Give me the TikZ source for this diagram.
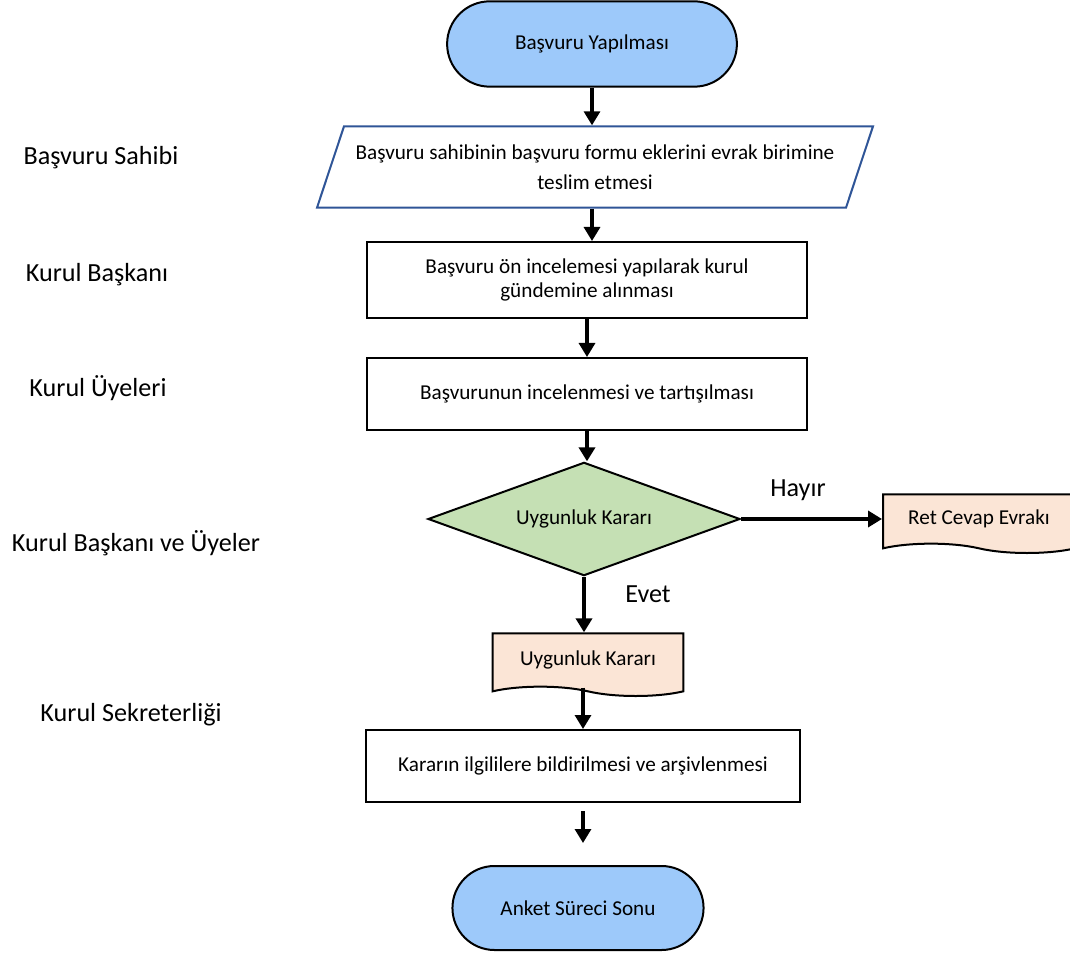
\documentclass[tikz,border=0pt]{standalone}
\usepackage{fontspec}
\setmainfont{Carlito}
\usetikzlibrary{shapes.geometric, shapes.misc, shapes.symbols, arrows.meta, positioning}
\definecolor{flowblue}{RGB}{157,201,250}
\definecolor{flowgreen}{RGB}{197,224,180}
\definecolor{flowpeach}{RGB}{251,229,214}
\definecolor{flowedge}{RGB}{47,85,151}
\newcommand{\boxfont}{\fontsize{15.9}{17.5}\selectfont}
\newcommand{\lanefont}{\fontsize{19.6}{22}\selectfont}
\tikzset{
  terminal/.style={draw, rounded rectangle, fill=flowblue, line width=1.5pt, font=\boxfont},
  iobox/.style={draw=flowedge, trapezium, trapezium left angle=64, trapezium right angle=116,
    trapezium stretches=true, line width=1.5pt, align=center, font=\fontsize{15.9}{22.5}\selectfont},
  procbox/.style={draw, rectangle, line width=1.5pt, align=center, font=\boxfont},
  decision/.style={draw, diamond, aspect=2.74, inner sep=0pt, fill=flowgreen, line width=1.5pt, font=\boxfont},
  docbox/.style={draw, tape, tape bend top=none, tape bend bottom=out and in, tape bend height=7pt,
    fill=flowpeach, line width=1.5pt, font=\boxfont},
  lane/.style={font=\lanefont},
  arr/.style={line width=2.4pt, -{Triangle[width=12pt,length=10.5pt]}},
  bigarr/.style={arr, line width=3pt}
}
\begin{document}
\begin{tikzpicture}[x=0.75pt, y=-0.75pt]
    \useasboundingbox (0,0) rectangle (1070,955);

    % flow
    \node[terminal, minimum width=224pt, minimum height=64pt] (start) at (592, 44) {Başvuru Yapılması};
    \node[iobox, minimum width=419pt, minimum height=61pt] (form) at (595, 167)
        {Başvuru sahibinin başvuru formu eklerini evrak birimine\\teslim etmesi};
    \node[procbox, minimum width=330pt, minimum height=57pt] (check) at (587, 280)
        {Başvuru ön incelemesi yapılarak kurul\\gündemine alınması};
    \node[procbox, minimum width=330pt, minimum height=54pt] (discuss) at (587, 394)
        {Başvurunun incelenmesi ve tartışılması};
    \node[decision, minimum width=234pt, minimum height=85pt] (decide) at (584, 519) {Uygunluk Kararı};
    \node[docbox, minimum width=144pt, minimum height=44pt] (reject) at (979, 519) {Ret Cevap Evrakı};
    \node[docbox, minimum width=143pt, minimum height=47pt] (result) at (588, 660) {Uygunluk Kararı};
    \node[procbox, minimum width=326pt, minimum height=54pt] (notify) at (583, 766)
        {Kararın ilgililere bildirilmesi ve arşivlenmesi};
    \node[terminal, minimum width=195pt, minimum height=63pt] (finish) at (578, 908) {Anket Süreci Sonu};

    \coordinate (tailA) at (583, 811);
    \coordinate (tipA) at (583, 843);

    % lanes
    \node[lane] (owner) at (101, 158) {Başvuru Sahibi};
    \node[lane] (chair) at (97, 275) {Kurul Başkanı};
    \node[lane] (members) at (98, 388) {Kurul Üyeleri};
    \node[lane] (board) at (136, 543) {Kurul Başkanı ve Üyeler};
    \node[lane] (office) at (131, 715) {Kurul Sekreterliği};

    % answers
    \node[lane] (no) at (798, 490) {Hayır};
    \node[lane] (yes) at (648, 594) {Evet};

    \draw [arr] (start.south) -- (start.south |- form.north);
    \draw [arr] (start.south |- form.south) -- (start.south |- check.north);
    \draw [arr] (check.south) -- (check.south |- discuss.north);
    \draw [bigarr] (discuss.south) -- (discuss.south |- decide.north);
    \draw [bigarr] (decide.east) -- (reject.west);
    \draw [bigarr] (decide.south) -- (decide.south |- result.north);
    \draw [arr] (result.south -| tailA) -- (notify.north -| tailA);
    \draw [arr] (tailA) -- (tipA);
\end{tikzpicture}
\end{document}
